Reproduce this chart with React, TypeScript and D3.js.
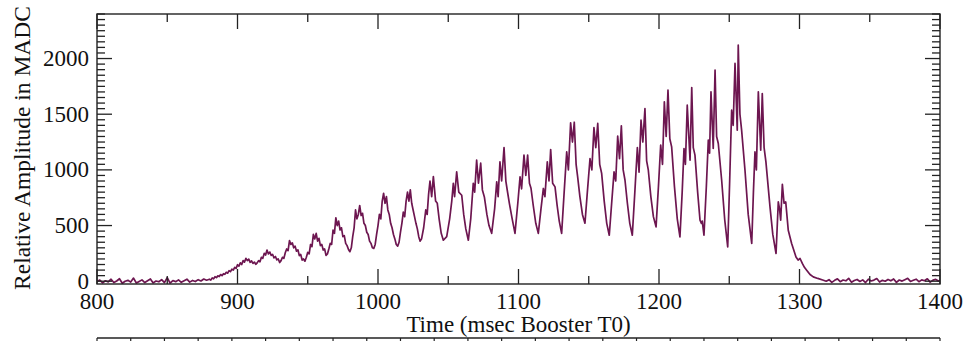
import React from 'react';
import * as d3 from 'd3';

// Time (msec Booster T0) vs Relative Amplitude (MADC)
const baselineBefore: [number, number][] = [
  [800, -3], [802, 10], [804, -14], [806, 4], [808, -6], [810, 18], [812, -12], [814, 2], [816, 22], [818, -18],
  [820, 0], [822, 8], [824, -8], [826, 28], [828, -16], [830, -2], [832, 12], [834, -12], [836, 4], [838, 20],
  [840, -15], [842, 2], [844, -5], [846, 14], [848, -13], [850, 32], [852, -17], [854, 6], [856, -4], [858, 12],
  [860, -10], [862, 4], [864, 18], [866, -8], [868, 7], [870, -3], [872, 14], [874, 2], [876, 20], [878, 9],
];

const riseSegment: [number, number][] = [
  [880, 18], [881, 10], [882, 30], [883, 22], [884, 40], [885, 32], [886, 48], [887, 42], [888, 60], [889, 50],
  [890, 68], [891, 62], [892, 80], [893, 72], [894, 95], [895, 86], [896, 108], [897, 100], [898, 125], [899, 115],
  [900, 148], [901, 135], [902, 165], [903, 150], [904, 185], [905, 172], [906, 205], [907, 185], [908, 198], [909, 170],
  [910, 182], [911, 160], [912, 172], [913, 152], [914, 165],
  [915, 185], [916, 175], [917, 215], [918, 205], [919, 250], [920, 235], [921, 280], [922, 245], [923, 262], [924, 232],
  [925, 240], [926, 210], [927, 222], [928, 192], [929, 200], [930, 168], [931, 185],
  [932, 215], [933, 205], [934, 255], [935, 290], [936, 275], [937, 365], [938, 330], [939, 345], [940, 300], [941, 315],
  [942, 270], [943, 282], [944, 230], [945, 240], [946, 190], [947, 200], [948, 180],
  [949, 215], [950, 260], [951, 245], [952, 330], [953, 310], [954, 420], [955, 380], [956, 430], [957, 360], [958, 385],
  [959, 320], [960, 330], [961, 280], [962, 290], [963, 232], [964, 245],
  [965, 290], [966, 340], [967, 330], [968, 460], [969, 430], [970, 570], [971, 500], [972, 540], [973, 460], [974, 480],
  [975, 400], [976, 410], [977, 340], [978, 320], [979, 285], [980, 265], [981, 300],
  [982, 400], [983, 480], [984, 640], [985, 560], [986, 600], [987, 680], [988, 590], [989, 610], [990, 520], [991, 500],
  [992, 440], [993, 420], [994, 360], [995, 340], [996, 300], [997, 295], [998, 330],
  [999, 420], [1000, 500], [1001, 600], [1002, 560], [1003, 720], [1004, 790], [1005, 700], [1006, 760], [1007, 640], [1008, 600],
  [1009, 520], [1010, 480], [1011, 420], [1012, 380], [1013, 330], [1014, 315], [1015, 350],
  [1016, 440], [1017, 520], [1018, 620], [1019, 580], [1020, 720], [1021, 800], [1022, 720], [1023, 820], [1024, 700], [1025, 640],
  [1026, 580], [1027, 520], [1028, 470], [1029, 400], [1030, 360],
];

const peakSegment: [number, number][] = [
  [1031, 380], [1032.5, 480], [1034, 640], [1035, 600], [1036, 780], [1037, 900], [1038.2, 760], [1039.4, 940], [1041, 720], [1042.2, 700],
  [1043.5, 560], [1045, 430], [1046.5, 368],
  [1048.9, 400], [1051, 560], [1052.5, 720], [1053.6, 880], [1054.5, 760], [1056, 982], [1057.5, 800], [1059.6, 772], [1061, 600],
  [1062.5, 470], [1064.3, 368],
  [1066, 560], [1067.8, 880], [1068.8, 800], [1070.2, 1087], [1071.5, 880], [1073.1, 1060], [1074.3, 820], [1075.7, 757], [1077.5, 600],
  [1079, 500], [1080.9, 430],
  [1083, 650], [1084.5, 892], [1085.5, 760], [1086.8, 1072], [1088, 900], [1089.7, 1201], [1091, 900], [1092, 817], [1093.5, 700],
  [1095.5, 560], [1097.5, 430],
  [1099.5, 700], [1101.1, 937], [1102.2, 830], [1103.9, 1132], [1105.2, 950], [1106.5, 1132], [1107.8, 880], [1108.9, 835], [1110.5, 680],
  [1112.3, 520], [1114.1, 430],
  [1116, 650], [1117.7, 833], [1118.8, 760], [1120.5, 1072], [1121.7, 900], [1122.9, 1183], [1124.3, 880], [1126, 847], [1127.5, 680],
  [1129, 540], [1130.7, 430],
  [1132.5, 800], [1134.3, 1161], [1135.5, 1000], [1137.1, 1422], [1138.4, 1250], [1139.7, 1428], [1141, 1050], [1142.1, 937], [1143.7, 760],
  [1145.5, 600], [1147.3, 521],
  [1149, 800], [1150.9, 1102], [1152.2, 1000], [1153.7, 1380], [1155, 1200], [1156.4, 1417], [1157.8, 1050], [1159.2, 967], [1161, 720],
  [1162.8, 520], [1164.6, 413],
  [1166.3, 700], [1168, 982], [1169.2, 900], [1170.6, 1303], [1171.9, 1100], [1173.2, 1395], [1174.5, 1000], [1175.8, 907], [1177.5, 700],
  [1179.2, 520], [1181, 413],
  [1182.8, 800], [1184.6, 1201], [1185.8, 980], [1187.2, 1446], [1188.5, 1250], [1190, 1551], [1191.2, 1080], [1192.4, 997], [1194.2, 760],
  [1196, 580], [1197.9, 488],
  [1199.6, 850], [1201.2, 1222], [1202.5, 1050], [1203.8, 1611], [1205.1, 1300], [1206.4, 1716], [1207.7, 1280], [1209, 1207], [1211, 850],
  [1213, 560], [1214.9, 398],
  [1216.5, 800], [1217.8, 1192], [1218.8, 1050], [1220.1, 1581], [1222.1, 1087], [1223.3, 1740], [1224.4, 1200], [1225.6, 1132], [1227.5, 800],
  [1229.2, 548], [1230.2, 520], [1230.8, 540], [1232, 413],
  [1233.7, 850], [1235.1, 1267], [1236, 1150], [1237, 1701], [1238.6, 1192], [1239.9, 1896], [1241, 1300], [1242.2, 1237], [1244.6, 907],
  [1246.8, 550], [1248.9, 308],
];

const decaySegment: [number, number][] = [
  [1250.3, 900], [1251.7, 1536], [1252.8, 1400], [1254.1, 1956], [1255.7, 1357], [1256.4, 2120], [1257.6, 1500], [1258.8, 1357], [1261.2, 997],
  [1263.5, 600], [1266, 339],
  [1267.2, 800], [1268.3, 1161], [1269.3, 1000], [1270.7, 1701], [1272.4, 1177], [1273.5, 1686], [1274.8, 1200], [1276.1, 1072], [1279, 668],
  [1281, 420], [1283.3, 249],
  [1284.9, 712], [1285.8, 650], [1286.6, 548], [1287.8, 871], [1289, 700], [1290.2, 712], [1292, 458], [1294.4, 339], [1297.5, 218],
  [1299, 190], [1300.4, 204], [1302, 160], [1303.5, 125], [1305.1, 99], [1307.5, 60], [1309.8, 39], [1313, 25], [1317, 9],
];

const baselineAfter: [number, number][] = [
  [1319, 0], [1321, 14], [1323, -10], [1325, 8], [1327, 21], [1329, -4], [1331, 11], [1333, 4], [1335, 26], [1337, -9],
  [1339, 6], [1341, 16], [1343, -2], [1345, 12], [1347, -12], [1349, 18], [1351, 2], [1353, 10], [1355, 24], [1357, -7],
  [1359, 8], [1361, 0], [1363, 16], [1365, 4], [1367, 20], [1369, -10], [1371, 11], [1373, 1], [1375, 14], [1377, 26],
  [1379, -2], [1381, 8], [1383, 18], [1385, -4], [1387, 12], [1389, 4], [1391, 22], [1393, -8], [1395, 10], [1397, 16],
  [1399, 2], [1400, 6],
];

const xMajorTicks = [800, 900, 1000, 1100, 1200, 1300, 1400];
const yMajorTicks = [0, 500, 1000, 1500, 2000];
const xDomain = [800, 1400];
const yDomain = [-25, 2400];
const xTitle = 'Time (msec Booster T0)';
const yTitle = 'Relative Amplitude in MADC';

export default function App() {
  const W = 966;
  const H = 341;
  const L = 97, R = 940, T = 14, B = 284;
  const x = d3.scaleLinear().domain(xDomain).range([L, R]);
  const y = d3.scaleLinear().domain(yDomain).range([B, T]);
  const trace = [...baselineBefore, ...riseSegment, ...peakSegment, ...decaySegment, ...baselineAfter];
  const line = d3.line<[number, number]>().x(d => x(d[0])).y(d => y(d[1]));

  const xMinor = d3.range(800, 1401, 50).filter(v => v % 100 !== 0);
  const yMinor = d3.range(0, 2401, 50).filter(v => v % 500 !== 0);
  const major = 15, minor = 8;
  const axisColor = '#222';
  const font = '"Liberation Serif", "Times New Roman", serif';

  // top edge of the next (cropped) panel
  const lowerTop = 338;
  const lowerTicks = d3.range(0, 26).map(i => L + (i * (R - L)) / 25);

  return (
    <svg width={W} height={H} style={{ position: 'absolute', left: 0, top: 0, background: '#fff' }}>
      <defs>
        <clipPath id="plotclip">
          <rect x={L} y={T} width={R - L} height={B - T} />
        </clipPath>
      </defs>
      <path d={line(trace) || ''} fill="none" stroke="#6d1650" strokeWidth={1.7} strokeLinejoin="round" clipPath="url(#plotclip)" />
      <rect x={L} y={T} width={R - L} height={B - T} fill="none" stroke={axisColor} strokeWidth={1.4} />
      {xMajorTicks.map(v => (
        <g key={'xm' + v}>
          <line x1={x(v)} x2={x(v)} y1={B} y2={B - major} stroke={axisColor} strokeWidth={1.3} />
          <line x1={x(v)} x2={x(v)} y1={T} y2={T + major} stroke={axisColor} strokeWidth={1.3} />
          <text x={x(v)} y={309} textAnchor="middle" fontFamily={font} fontSize={23} fill="#111">{v}</text>
        </g>
      ))}
      {xMinor.map(v => (
        <g key={'xn' + v}>
          <line x1={x(v)} x2={x(v)} y1={B} y2={B - minor} stroke={axisColor} strokeWidth={1.3} />
          <line x1={x(v)} x2={x(v)} y1={T} y2={T + minor} stroke={axisColor} strokeWidth={1.3} />
        </g>
      ))}
      {yMajorTicks.map(v => (
        <g key={'ym' + v}>
          <line x1={L} x2={L + major} y1={y(v)} y2={y(v)} stroke={axisColor} strokeWidth={1.3} />
          <line x1={R} x2={R - major} y1={y(v)} y2={y(v)} stroke={axisColor} strokeWidth={1.3} />
          <text x={89} y={y(v)} dy="0.33em" textAnchor="end" fontFamily={font} fontSize={23} fill="#111">{v}</text>
        </g>
      ))}
      {yMinor.map(v => (
        <g key={'yn' + v}>
          <line x1={L} x2={L + minor} y1={y(v)} y2={y(v)} stroke={axisColor} strokeWidth={1.3} />
          <line x1={R} x2={R - minor} y1={y(v)} y2={y(v)} stroke={axisColor} strokeWidth={1.3} />
        </g>
      ))}
      <text x={(L + R) / 2} y={332} textAnchor="middle" fontFamily={font} fontSize={23} fill="#111">{xTitle}</text>
      <text transform={`translate(30, 148) rotate(-90)`} textAnchor="middle" fontFamily={font} fontSize={23.5} fill="#111">{yTitle}</text>
      <line x1={L} x2={R} y1={lowerTop} y2={lowerTop} stroke={axisColor} strokeWidth={1.4} />
      {lowerTicks.map((px, i) => (
        <line key={'lt' + i} x1={px} x2={px} y1={lowerTop} y2={H} stroke={axisColor} strokeWidth={1.2} />
      ))}
    </svg>
  );
}
